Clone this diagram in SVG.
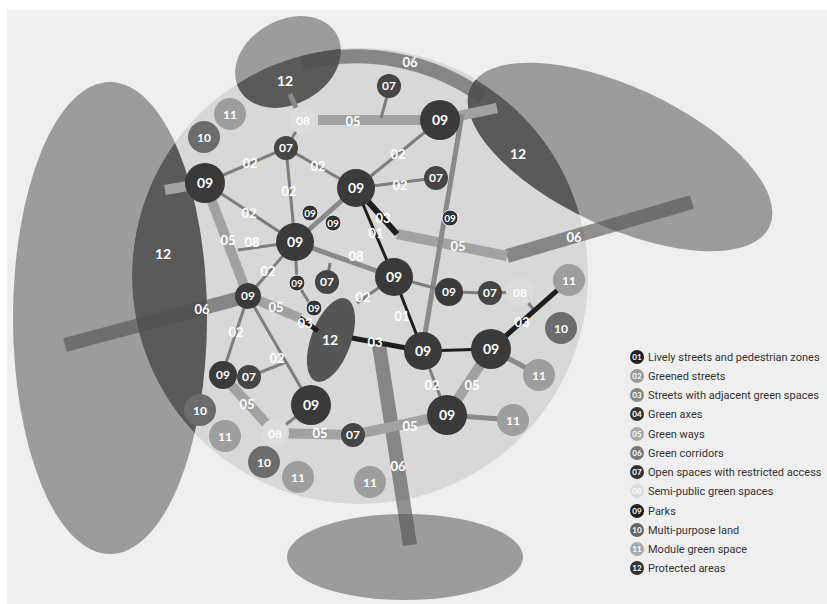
<svg xmlns="http://www.w3.org/2000/svg" width="827" height="604" viewBox="0 0 827 604">
<defs>
<style>
text{font-family:Lato,"Open Sans","DejaVu Sans",sans-serif;font-weight:700;text-anchor:middle}
.w{fill:#fff}
.e{font-size:13px;fill:#fff}
.big{font-size:14px}
.mid{font-size:12px}
.pa{font-size:14px}
.sm{font-size:10px}
.n09{fill:#3a3a3a}
.n07{fill:#454545}
.n10{fill:#6c6c6c}
.n11{fill:#9e9e9e}
.n08{fill:#dcdcdc}
.s09{fill:#333;stroke:#eee;stroke-width:1}
.thin{stroke:#7e7e7e;stroke-width:3;fill:none}
.med{stroke:#8a8a8a;stroke-width:5;fill:none}
.way{stroke:#a2a2a2;stroke-width:10;fill:none}
.blk{stroke:#1e1e1e;fill:none}
.cor{stroke:#505050;stroke-opacity:0.6;stroke-width:14;fill:none}
.leg{font-family:Roboto,"DejaVu Sans",sans-serif;font-weight:400;font-size:11px;fill:#333;text-anchor:start}
.lnum{font-size:8px;fill:#fff}
</style>
<clipPath id="cc"><circle cx="360" cy="276" r="228"/></clipPath>
<ellipse id="eL" cx="110" cy="318" rx="97" ry="236"/>
<ellipse id="eT" cx="288" cy="62" rx="56" ry="42" transform="rotate(-30 288 62)"/>
<ellipse id="eR" cx="620" cy="157" rx="165" ry="70" transform="rotate(25 620 157)"/>
</defs>
<rect x="0" y="0" width="827" height="604" fill="#fff"/>
<rect x="7" y="10" width="820" height="594" fill="#efefef"/>
<g id="areas">
<use href="#eL" fill="#9c9c9c"/>
<use href="#eT" fill="#9c9c9c"/>
<use href="#eR" fill="#9c9c9c"/>
<ellipse cx="405" cy="557" rx="118" ry="43" fill="#9c9c9c"/>
<circle cx="360" cy="276" r="228" fill="#d8d8d8"/>
<g clip-path="url(#cc)" fill="#5a5a5a">
<use href="#eL"/><use href="#eT"/><use href="#eR"/>
</g>
<ellipse cx="331" cy="340" rx="20" ry="44" transform="rotate(20 331 340)" fill="#555"/>
<text x="285" y="86" class="w pa">12</text>
<text x="518" y="159" class="w pa">12</text>
<text x="163" y="259" class="w pa">12</text>
<text x="330" y="345" class="w pa">12</text>
</g>
<g id="connectors">
<path class="cor" d="M302 63 A219 219 0 0 1 483 97"/>
<path class="cor" d="M65 345 L248 296"/>
<path class="cor" d="M507 256 L692 202"/>
<path class="cor" d="M379 345 L410 545"/>
<path class="way" d="M205 183 L248 296"/>
<path class="way" d="M248 296 L300 318"/>
<path class="way" d="M397 234 L507 256"/>
<path class="way" d="M491 349 L447 415"/>
<path class="way" d="M447 415 L353 435"/>
<path class="way" d="M353 435 L275 433"/>
<path class="way" d="M222 375 L275 433"/>
<path class="way" d="M318 120 L440 120"/>
<path class="way" d="M205 183 L165 190"/>
<path class="way" d="M440 120 L497 108"/>
<path class="med" d="M295 242 L394 277"/>
<path class="med" d="M295 242 L356 188"/>
<path class="med" d="M491 349 L539 375"/>
<path class="med" d="M447 415 L513 420"/>
<path class="med" d="M462 114 L424 340"/>
<path class="med" stroke="#a2a2a2" d="M290 94 L296 108"/>
<path class="thin" d="M205 183 L286 148 L356 188 M286 148 L295 242 M286 148 L303 120 M356 188 L440 120 M356 188 L436 178 M205 183 L295 242 M295 242 L248 296 M248 296 L222 375 M248 296 L311 405 M249 377 L286 362 M295 242 L297 283 L313 309 M394 277 L357 303 M394 277 L449 292 L490 293 L520 292 L533 309 M423 351 L447 415 M311 405 L275 433 M390 86 L381 118 M295 242 L238 250 M330 263 L327 282"/>
<path class="blk" stroke-width="3" d="M356 188 L394 277 L423 351 L491 349"/>
<path class="blk" stroke-width="6" d="M356 188 L397 234"/>
<path class="blk" stroke-width="5" d="M300 318 L318 331 M352 338 L423 351 M491 349 L569 280"/>
<text x="250" y="168" class="e">02</text>
<text x="318" y="171" class="e">02</text>
<text x="289" y="196" class="e">02</text>
<text x="398" y="159" class="e">02</text>
<text x="400" y="190" class="e">02</text>
<text x="249" y="218" class="e">02</text>
<text x="268" y="276" class="e">02</text>
<text x="236" y="337" class="e">02</text>
<text x="277" y="363" class="e">02</text>
<text x="363" y="302" class="e">02</text>
<text x="432" y="390" class="e">02</text>
<text x="353" y="126" class="e">05</text>
<text x="228" y="245" class="e">05</text>
<text x="276" y="312" class="e">05</text>
<text x="458" y="251" class="e">05</text>
<text x="472" y="390" class="e">05</text>
<text x="410" y="431" class="e">05</text>
<text x="320" y="438" class="e">05</text>
<text x="247" y="409" class="e">05</text>
<text x="252" y="247" class="e">08</text>
<text x="356" y="261" class="e">08</text>
<text x="383" y="223" class="e">03</text>
<text x="305" y="328" class="e">03</text>
<text x="375" y="347" class="e">03</text>
<text x="522" y="327" class="e">03</text>
<text x="376" y="238" class="e">01</text>
<text x="402" y="321" class="e">01</text>
<text x="410" y="67" class="e">06</text>
<text x="202" y="314" class="e">06</text>
<text x="574" y="242" class="e">06</text>
<text x="398" y="471" class="e">06</text>
</g>
<g id="n09-a"><circle cx="205" cy="183" r="20" class="n09"/><text x="205" y="188" class="w big">09</text></g>
<g id="n09-b"><circle cx="440" cy="120" r="20" class="n09"/><text x="440" y="125" class="w big">09</text></g>
<g id="n09-c"><circle cx="356" cy="188" r="19" class="n09"/><text x="356" y="193" class="w big">09</text></g>
<g id="n09-d"><circle cx="295" cy="242" r="19" class="n09"/><text x="295" y="247" class="w big">09</text></g>
<g id="n09-e"><circle cx="394" cy="277" r="19" class="n09"/><text x="394" y="282" class="w big">09</text></g>
<g id="n09-f"><circle cx="423" cy="351" r="19" class="n09"/><text x="423" y="356" class="w big">09</text></g>
<g id="n09-g"><circle cx="491" cy="349" r="20" class="n09"/><text x="491" y="354" class="w big">09</text></g>
<g id="n09-h"><circle cx="447" cy="415" r="20" class="n09"/><text x="447" y="420" class="w big">09</text></g>
<g id="n09-i"><circle cx="311" cy="405" r="20" class="n09"/><text x="311" y="410" class="w big">09</text></g>
<g id="n09-j"><circle cx="248" cy="296" r="13" class="n09"/><text x="248" y="300" class="w mid">09</text></g>
<g id="n09-k"><circle cx="223" cy="375" r="14" class="n09"/><text x="223" y="379" class="w mid">09</text></g>
<g id="n09-l"><circle cx="449" cy="292" r="14" class="n09"/><text x="449" y="296" class="w mid">09</text></g>
<g id="n09-s1"><circle cx="310" cy="213" r="8" class="s09"/><text x="310" y="217" class="w sm">09</text></g>
<g id="n09-s2"><circle cx="333" cy="223" r="8" class="s09"/><text x="333" y="227" class="w sm">09</text></g>
<g id="n09-s3"><circle cx="297" cy="283" r="8" class="s09"/><text x="297" y="287" class="w sm">09</text></g>
<g id="n09-s4"><circle cx="314" cy="308" r="8" class="s09"/><text x="314" y="312" class="w sm">09</text></g>
<g id="n09-s5"><circle cx="450" cy="218" r="8" class="s09"/><text x="450" y="222" class="w sm">09</text></g>
<g id="n07-a"><circle cx="389" cy="86" r="12" class="n07"/><text x="389" y="90" class="w mid">07</text></g>
<g id="n07-b"><circle cx="286" cy="148" r="12" class="n07"/><text x="286" y="152" class="w mid">07</text></g>
<g id="n07-c"><circle cx="436" cy="178" r="12" class="n07"/><text x="436" y="182" class="w mid">07</text></g>
<g id="n07-d"><circle cx="327" cy="282" r="12" class="n07"/><text x="327" y="286" class="w mid">07</text></g>
<g id="n07-e"><circle cx="490" cy="293" r="12" class="n07"/><text x="490" y="297" class="w mid">07</text></g>
<g id="n07-f"><circle cx="249" cy="377" r="12" class="n07"/><text x="249" y="381" class="w mid">07</text></g>
<g id="n07-g"><circle cx="353" cy="435" r="12" class="n07"/><text x="353" y="439" class="w mid">07</text></g>
<g id="n08-a"><circle cx="303" cy="120" r="14" class="n08"/><text x="303" y="125" class="w mid">08</text></g>
<g id="n08-b"><circle cx="520" cy="292" r="14" class="n08"/><text x="520" y="297" class="w mid">08</text></g>
<g id="n08-c"><circle cx="275" cy="433" r="14" class="n08"/><text x="275" y="438" class="w mid">08</text></g>
<g id="n10-a"><circle cx="204" cy="137" r="16" class="n10"/><text x="204" y="142" class="w mid">10</text></g>
<g id="n10-b"><circle cx="561" cy="328" r="16" class="n10"/><text x="561" y="333" class="w mid">10</text></g>
<g id="n10-c"><circle cx="200" cy="410" r="16" class="n10"/><text x="200" y="415" class="w mid">10</text></g>
<g id="n10-d"><circle cx="264" cy="462" r="16" class="n10"/><text x="264" y="467" class="w mid">10</text></g>
<g id="n11-a"><circle cx="230" cy="114" r="16" class="n11"/><text x="230" y="119" class="w mid">11</text></g>
<g id="n11-b"><circle cx="569" cy="280" r="16" class="n11"/><text x="569" y="285" class="w mid">11</text></g>
<g id="n11-c"><circle cx="539" cy="375" r="16" class="n11"/><text x="539" y="380" class="w mid">11</text></g>
<g id="n11-d"><circle cx="513" cy="420" r="16" class="n11"/><text x="513" y="425" class="w mid">11</text></g>
<g id="n11-e"><circle cx="225" cy="436" r="16" class="n11"/><text x="225" y="441" class="w mid">11</text></g>
<g id="n11-f"><circle cx="298" cy="477" r="16" class="n11"/><text x="298" y="482" class="w mid">11</text></g>
<g id="n11-g"><circle cx="370" cy="482" r="16" class="n11"/><text x="370" y="487" class="w mid">11</text></g>
<g id="legend">
<circle cx="637" cy="357" r="7" fill="#1e1e1e"/><text x="637" y="360" class="lnum">01</text><text x="648" y="361" class="leg">Lively streets and pedestrian zones</text>
<circle cx="637" cy="376" r="7" fill="#9a9a9a"/><text x="637" y="379" class="lnum">02</text><text x="648" y="380" class="leg">Greened streets</text>
<circle cx="637" cy="395" r="7" fill="#888"/><text x="637" y="398" class="lnum">03</text><text x="648" y="399" class="leg">Streets with adjacent green spaces</text>
<circle cx="637" cy="414" r="7" fill="#333"/><text x="637" y="417" class="lnum">04</text><text x="648" y="418" class="leg">Green axes</text>
<circle cx="637" cy="434" r="7" fill="#ababab"/><text x="637" y="437" class="lnum">05</text><text x="648" y="438" class="leg">Green ways</text>
<circle cx="637" cy="453" r="7" fill="#777"/><text x="637" y="456" class="lnum">06</text><text x="648" y="457" class="leg">Green corridors</text>
<circle cx="637" cy="472" r="7" fill="#333"/><text x="637" y="475" class="lnum">07</text><text x="648" y="476" class="leg">Open spaces with restricted access</text>
<circle cx="637" cy="491" r="7" fill="#dcdcdc"/><text x="637" y="494" class="lnum">08</text><text x="648" y="495" class="leg">Semi-public green spaces</text>
<circle cx="637" cy="511" r="7" fill="#222"/><text x="637" y="514" class="lnum">09</text><text x="648" y="515" class="leg">Parks</text>
<circle cx="637" cy="530" r="7" fill="#666"/><text x="637" y="533" class="lnum">10</text><text x="648" y="534" class="leg">Multi-purpose land</text>
<circle cx="637" cy="549" r="7" fill="#aaa"/><text x="637" y="552" class="lnum">11</text><text x="648" y="553" class="leg">Module green space</text>
<circle cx="637" cy="568" r="7" fill="#333"/><text x="637" y="571" class="lnum">12</text><text x="648" y="572" class="leg">Protected areas</text>
</g>
</svg>
